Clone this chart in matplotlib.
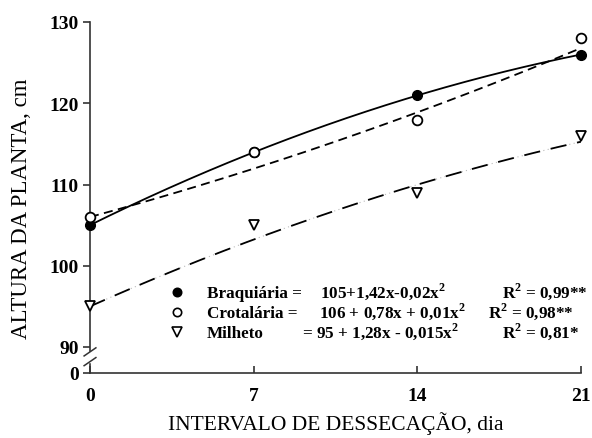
import numpy as np
import matplotlib
matplotlib.use("Agg")
import matplotlib.pyplot as plt

plt.rcParams['font.family'] = ['Liberation Serif', 'DejaVu Serif']
plt.rcParams['mathtext.fontset'] = 'custom'
plt.rcParams['mathtext.rm'] = 'Liberation Serif'
plt.rcParams['mathtext.bf'] = 'Liberation Serif:bold'

# observed plant height (cm) at each desiccation interval (days)
dias = [0, 7, 14, 21]
braquiaria = [105, 114, 121, 126]
crotalaria = [106, 114, 118, 128]
milheto = [95, 105, 109, 116]

# quadratic fit coefficients (a + b x + c x^2)
coef_braq = [105, 1.42, -0.02]
coef_crot = [106, 0.78, 0.01]
coef_milh = [95, 1.28, -0.015]

yticks = [90, 100, 110, 120, 130]
y_zero = 86.8  # where the "0" sits below the axis break

fig = plt.figure(figsize=(5.92, 4.39), dpi=100)
ax = fig.add_axes([90/592, 1-374/439, (581-90)/592, (374-23)/439])

xs = np.linspace(0, 21, 200)
def quad(c, x):
    return c[0] + c[1]*x + c[2]*x**2

ax.plot(xs, quad(coef_braq, xs), color='black', lw=1.3, zorder=2)
ax.plot(xs, quad(coef_crot, xs), color='black', lw=1.3, ls=(0, (5, 3)), zorder=2)
ax.plot(xs, quad(coef_milh, xs), color='#bbbbbb', lw=0.8, ls=(0, (1, 3)), zorder=1)
ax.plot(xs, quad(coef_milh, xs), color='black', lw=1.3, ls=(0, (9, 6)), zorder=2)

ax.plot(dias, braquiaria, 'o', color='black', ms=7, zorder=3, clip_on=False)
ax.plot(dias, crotalaria, 'o', mfc='white', mec='black', mew=1.3, ms=7, zorder=4, clip_on=False)
ax.plot(dias, milheto, 'v', mfc='white', mec='black', mew=1.3, ms=7.5, zorder=4, clip_on=False)

ax.set_xlim(0, 21)
ax.set_ylim(y_zero, 130)
ax.set_xticks([0, 7, 14, 21])
ax.set_yticks([y_zero] + yticks)
ax.set_yticklabels(['0'] + [str(v) for v in yticks])
for s in ['top', 'right']:
    ax.spines[s].set_visible(False)
for s in ['left', 'bottom']:
    ax.spines[s].set_color('#333333')
    ax.spines[s].set_linewidth(1.2)
ax.tick_params(axis='x', direction='in', length=5, width=1.2, color='#333333', pad=10)
ax.tick_params(axis='y', direction='out', length=5, width=1.2, color='#333333', pad=3)
for lab in ax.get_xticklabels() + ax.get_yticklabels():
    lab.set_fontweight('bold')
    lab.set_fontsize(14)

# axis break marks
ax.axhspan(88.2, 89.4, xmin=-0.01, xmax=0.01, color='white', clip_on=False, zorder=5)
for yb in [88.2, 89.4]:
    ax.plot([-0.012, 0.012], [yb - 0.5, yb + 0.5], transform=ax.get_yaxis_transform(),
            color='#333333', lw=1.1, clip_on=False, zorder=6)

ax.set_xlabel('INTERVALO DE DESSECAÇÃO, dia', fontsize=15.5, labelpad=5)
ax.set_ylabel('ALTURA DA PLANTA, cm', fontsize=16.5)
ax.yaxis.set_label_coords(-0.118, 0.47)

# legend with fitted equations
def fy(py):
    return 1 - py/439
sq = r'$^{\mathbf{2}}$'
rows = [
    ('o', 'black', 'Braquiária =', '105+1,42x-0,02x' + sq, 320, 'R' + sq + ' = 0,99**', 502, 293),
    ('o', 'white', 'Crotalária =', '106 + 0,78x + 0,01x' + sq, 319, 'R' + sq + ' = 0,98**', 488, 313),
    ('v', 'white', 'Milheto', '= 95 + 1,28x - 0,015x' + sq, 302, 'R' + sq + ' = 0,81*', 502, 333),
]
for mk, fc, nome, eq, xe, r2, xr, py in rows:
    fig.lines.append(plt.Line2D([177/592], [fy(py)], marker=mk, mfc=fc, mec='black',
                                mew=1.2, ms=6 if mk == 'o' else 6.5, ls='none',
                                transform=fig.transFigure))
    yb = fy(py + 5)
    fig.text(207/592, yb, nome, fontsize=12.3, fontweight='bold', va='baseline')
    fig.text(xe/592, yb, eq, fontsize=12.3, fontweight='bold', va='baseline')
    fig.text(xr/592, yb, r2, fontsize=12.3, fontweight='bold', va='baseline')

fig.savefig('out.png', dpi=100)
